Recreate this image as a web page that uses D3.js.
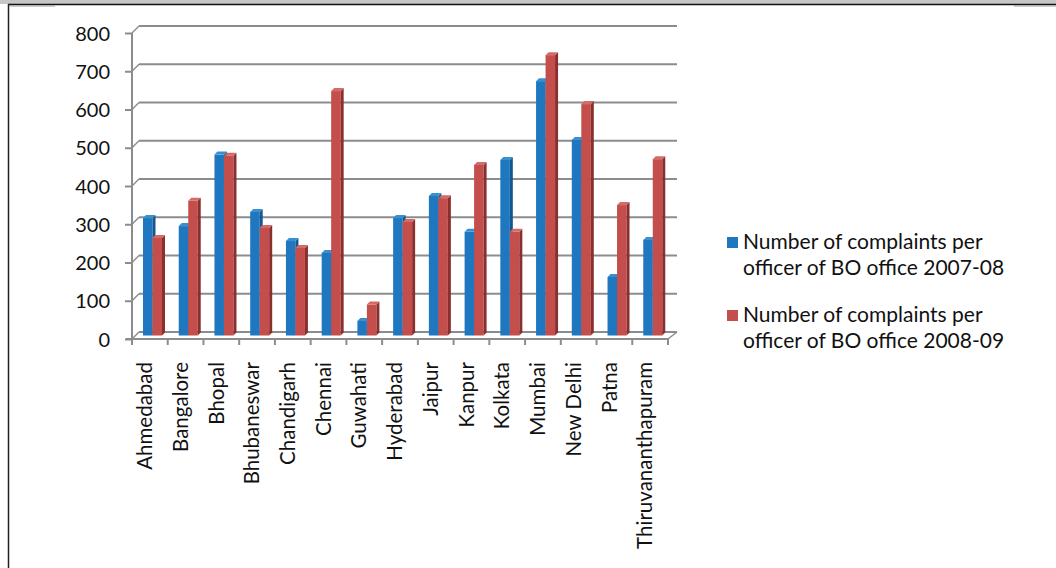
<!DOCTYPE html>
<html>
<head>
<meta charset="utf-8">
<script src="https://cdn.jsdelivr.net/npm/d3@7"></script>
<style>
  html, body { margin: 0; padding: 0; background: #fff; }
  svg { display: block; }
  text { font-family: Lato, "Open Sans", sans-serif; fill: #111; }
</style>
</head>
<body>
<svg id="chart" width="1056" height="568"></svg>
<script>
// Complaints per officer of each Banking Ombudsman office
const cities = ["Ahmedabad", "Bangalore", "Bhopal", "Bhubaneswar", "Chandigarh", "Chennai",
  "Guwahati", "Hyderabad", "Jaipur", "Kanpur", "Kolkata", "Mumbai", "New Delhi", "Patna",
  "Thiruvananthapuram"];
const complaints2007 = [307, 286, 473, 323, 247, 216, 38, 307, 365, 271, 459, 665, 511, 153, 250];
const complaints2008 = [255, 352, 470, 281, 229, 639, 81, 297, 359, 446, 271, 733, 605, 341, 461];
const seriesNames = ["Number of complaints per officer of BO office 2007-08",
                     "Number of complaints per officer of BO office 2008-09"];
const yTicks = [0, 100, 200, 300, 400, 500, 600, 700, 800];

const series = [complaints2007, complaints2008];
const palette = [
  { front: "#1f77c0", side: "#145791", top: "#3a8fd0" },
  { front: "#c44e4b", side: "#8a2f2d", top: "#d46a67" }
];

const svg = d3.select("#chart");

// frame around the chart area
svg.append("rect").attr("x", 0).attr("y", 0).attr("width", 1056).attr("height", 4).attr("fill", "#c6c6c6");
svg.append("line").attr("x1", 8).attr("x2", 1056).attr("y1", 4.5).attr("y2", 4.5).attr("stroke", "#111").attr("stroke-width", 1.5);
svg.append("line").attr("x1", 8.5).attr("x2", 8.5).attr("y1", 4).attr("y2", 568).attr("stroke", "#222").attr("stroke-width", 1.5);
svg.append("line").attr("x1", 9).attr("x2", 55).attr("y1", 6).attr("y2", 6).attr("stroke", "#9a9a9a").attr("stroke-width", 1);
svg.append("line").attr("x1", 1014).attr("x2", 1056).attr("y1", 6).attr("y2", 6).attr("stroke", "#9a9a9a").attr("stroke-width", 1);

// 3D geometry of the plot: front floor edge and wall depth offset
const depthX = 7, depthY = -7;
const x = d3.scaleBand().domain(cities).range([132, 668]).paddingInner(0).paddingOuter(0);
const y = d3.scaleLinear().domain([0, 800]).range([339, 33]);
const inner = d3.scaleBand().domain([0, 1]).range([11, 30]);
const gridColor = "#8a8d90";

// back wall gridlines
const g = svg.append("g");
g.selectAll("line.grid").data(yTicks).join("line")
  .attr("class", "grid")
  .attr("x1", 132 + depthX).attr("x2", 668 + depthX + 2)
  .attr("y1", d => y(d) + depthY).attr("y2", d => y(d) + depthY)
  .attr("stroke", gridColor).attr("stroke-width", 2);

// side-wall connectors from the axis ticks to the back wall
g.selectAll("line.conn").data(yTicks).join("line")
  .attr("x1", 132).attr("x2", 132 + depthX)
  .attr("y1", d => y(d)).attr("y2", d => y(d) + depthY)
  .attr("stroke", gridColor).attr("stroke-width", 1.5);

// floor right edge
g.append("line").attr("x1", 668).attr("y1", 339).attr("x2", 668 + depthX + 2).attr("y2", 339 + depthY)
  .attr("stroke", gridColor).attr("stroke-width", 1.5);

// bars with front, side and top faces
const depth = 3;
const barW = inner.bandwidth();
const bars = svg.append("g");
cities.forEach((c, i) => {
  series.forEach((vals, s) => {
    const v = vals[i];
    const x0 = x(c) + inner(s);
    const x1 = x0 + barW;
    const yb = y(0) - 3.5;
    const yt = y(v) - 3.5;
    const col = palette[s];
    bars.append("rect").attr("x", x0).attr("y", yt).attr("width", barW).attr("height", yb - yt)
      .attr("fill", col.front);
    bars.append("polygon")
      .attr("points", [[x1, yt], [x1 + depth, yt - depth], [x1 + depth, yb - depth], [x1, yb]].join(" "))
      .attr("fill", col.side);
    bars.append("polygon")
      .attr("points", [[x0, yt], [x0 + depth, yt - depth], [x1 + depth, yt - depth], [x1, yt]].join(" "))
      .attr("fill", col.top);
  });
});

// y axis
const yAxis = d3.axisLeft(y).tickValues(yTicks).tickSize(7).tickPadding(15).tickFormat(d3.format("d"));
const ya = svg.append("g").attr("transform", "translate(132,0)").call(yAxis);
ya.select(".domain").attr("stroke", gridColor).attr("stroke-width", 2).attr("d", `M0,${y(0)}V${y(800)}`);
ya.selectAll(".tick line").attr("stroke", gridColor).attr("stroke-width", 2);
ya.selectAll(".tick text").attr("font-size", 20).attr("font-family", "Lato").attr("fill", "#111").attr("dy", "0.35em");

// x axis (front floor edge)
const xAxis = d3.axisBottom(x).tickSize(0).tickFormat(d => d);
const xa = svg.append("g").attr("transform", "translate(0,339)").call(xAxis);
xa.select(".domain").attr("stroke", gridColor).attr("stroke-width", 2).attr("d", "M126,0H668");
xa.selectAll(".tick text")
  .attr("font-size", 20.5).attr("font-family", "Lato").attr("fill", "#111")
  .attr("text-anchor", "end")
  .attr("transform", "translate(-5,23) rotate(-90)")
  .attr("x", 0).attr("y", 0).attr("dy", "0.35em");
// category boundary ticks
xa.selectAll("line.sep").data(cities.map(c => x(c)).concat([668])).join("line")
  .attr("class", "sep")
  .attr("x1", d => d).attr("x2", d => d).attr("y1", 0).attr("y2", 6)
  .attr("stroke", gridColor).attr("stroke-width", 2);

// legend
const legend = svg.append("g");
const legendY = [237, 310];
seriesNames.forEach((name, s) => {
  const words = name.split(" ");
  const lines = [words.slice(0, 4).join(" "), words.slice(4).join(" ")];
  const lg = legend.append("g").attr("transform", `translate(727,${legendY[s]})`);
  lg.append("rect").attr("width", 11).attr("height", 11).attr("fill", palette[s].front);
  lg.selectAll("text").data(lines).join("text")
    .attr("x", 16).attr("y", (d, k) => 12 + k * 26)
    .attr("font-size", 21)
    .text(d => d);
});
</script>
</body>
</html>
